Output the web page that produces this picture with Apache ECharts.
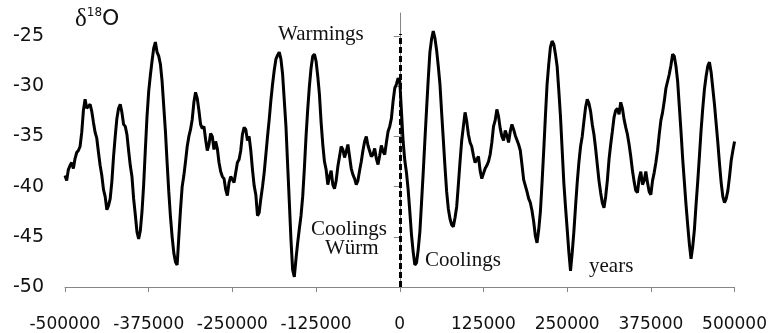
<!DOCTYPE html>
<html>
<head>
  <meta charset="utf-8">
  <title>d18O</title>
  <script src="https://cdn.jsdelivr.net/npm/echarts@6/dist/echarts.min.js"></script>
  <style>
    html, body { margin: 0; padding: 0; background: #fff; }
    #main { width: 770px; height: 333px; }
  </style>
</head>
<body>
  <div id="main"></div>
  <script type="text/javascript">
    // one sample every 2500 years, from -500000 to 500000
    var yearStart = -500000;
    var yearStep = 2500;
    var d18O = [
      -38.9,-39.4,-38.3,-37.9,-37.6,-38.2,-37.2,-36.6,-36.4,-36.0,
      -34.6,-32.4,-31.3,-32.2,-32.0,-31.8,-32.5,-33.6,-34.6,-35.2,
      -36.6,-37.9,-38.9,-40.3,-41.0,-42.3,-41.9,-41.2,-39.5,-37.0,
      -35.0,-33.2,-32.2,-31.8,-32.6,-33.8,-34.0,-34.8,-36.4,-37.9,
      -39.0,-41.2,-42.8,-44.5,-45.2,-44.4,-42.5,-39.8,-36.3,-33.0,
      -30.5,-28.9,-27.5,-26.2,-25.6,-26.6,-27.0,-27.8,-29.5,-32.0,
      -34.5,-37.6,-40.5,-43.0,-45.0,-46.6,-47.5,-47.8,-45.0,-42.3,
      -40.0,-38.9,-37.5,-36.0,-35.0,-34.3,-33.3,-31.6,-30.6,-31.2,
      -32.4,-33.8,-34.2,-34.0,-35.3,-36.4,-35.8,-34.7,-35.0,-36.3,
      -35.5,-36.2,-37.6,-38.5,-39.0,-39.2,-40.3,-40.9,-39.6,-39.0,
      -39.1,-39.6,-38.6,-37.6,-37.3,-36.4,-34.8,-34.1,-34.3,-35.4,
      -35.0,-36.4,-38.3,-39.9,-40.8,-42.9,-42.6,-41.2,-40.0,-38.6,
      -36.8,-35.0,-33.3,-31.4,-29.8,-28.4,-27.3,-26.9,-26.6,-27.3,
      -28.8,-31.4,-34.0,-37.8,-41.5,-45.3,-48.3,-49.0,-47.2,-45.6,
      -44.2,-42.9,-41.0,-38.2,-35.0,-32.3,-30.0,-28.2,-27.0,-26.8,
      -27.5,-29.0,-30.8,-33.6,-35.8,-37.5,-38.3,-39.8,-39.0,-38.4,
      -39.8,-40.2,-39.4,-38.0,-37.0,-36.0,-36.3,-37.1,-36.5,-35.8,
      -37.0,-38.2,-38.8,-39.2,-39.8,-39.4,-38.4,-37.5,-36.4,-35.5,
      -35.0,-35.9,-36.0,-37.0,-36.8,-36.2,-37.2,-37.8,-36.9,-35.9,
      -36.5,-36.8,-35.6,-34.5,-34.0,-33.2,-31.5,-30.2,-29.8,-29.2,
      -29.5,-32.5,-35.5,-37.4,-38.6,-40.3,-42.5,-44.8,-46.5,-47.8,
      -47.6,-46.3,-44.5,-41.6,-38.6,-35.4,-32.3,-29.3,-26.6,-25.3,
      -24.5,-25.2,-26.4,-28.0,-29.8,-32.6,-35.3,-38.0,-40.5,-42.2,
      -43.2,-43.8,-44.0,-43.1,-42.0,-39.8,-37.5,-35.4,-34.0,-32.6,
      -33.5,-34.8,-35.6,-36.0,-36.9,-37.6,-37.6,-37.0,-38.4,-39.2,
      -39.2,-38.2,-37.9,-37.5,-36.8,-35.6,-34.0,-33.4,-32.3,-33.0,
      -34.2,-35.0,-35.4,-34.4,-34.9,-35.6,-34.5,-33.8,-34.3,-34.9,
      -35.0,-35.8,-36.4,-37.8,-39.3,-39.9,-40.5,-41.2,-41.6,-42.4,
      -43.5,-44.9,-45.6,-44.3,-42.5,-39.6,-36.4,-33.0,-29.8,-27.8,
      -26.1,-25.5,-25.8,-26.8,-28.0,-30.4,-33.0,-36.3,-39.6,-42.0,
      -44.2,-46.5,-48.4,-46.6,-44.5,-42.0,-39.6,-37.6,-36.0,-35.0,
      -33.5,-32.1,-31.3,-31.7,-32.5,-33.8,-34.8,-36.2,-37.8,-39.4,
      -40.6,-41.6,-42.1,-41.0,-39.4,-37.3,-35.8,-34.5,-33.1,-32.4,
      -32.2,-32.8,-31.6,-32.2,-33.3,-34.1,-34.8,-35.8,-37.0,-38.4,
      -39.5,-40.4,-40.6,-39.2,-38.5,-39.8,-39.4,-38.5,-39.6,-40.5,
      -40.8,-39.4,-38.6,-37.6,-36.4,-34.8,-33.4,-32.6,-31.5,-30.2,
      -29.5,-28.8,-27.9,-26.8,-27.0,-28.0,-29.5,-32.0,-34.5,-37.2,
      -39.5,-41.8,-43.8,-45.7,-47.2,-46.0,-44.3,-41.8,-39.5,-37.0,
      -34.4,-32.2,-30.3,-29.0,-28.0,-27.6,-28.6,-30.2,-31.8,-33.7,
      -35.6,-37.7,-39.6,-41.0,-41.6,-41.2,-40.4,-39.0,-37.4,-36.4,
      -35.5
    ];
    var markerTop = -24.8;

    var data = [];
    for (var i = 0; i < d18O.length; i++) {
      data.push([yearStart + i * yearStep, d18O[i]]);
    }

    var myChart = echarts.init(document.getElementById('main'));
    var axisGray = '#868686';
    var option = {
      backgroundColor: '#fff',
      animation: false,
      grid: { left: 65, right: 31, top: 13, bottom: 43 },
      xAxis: {
        type: 'value',
        min: -500000,
        max: 500000,
        interval: 125000,
        axisLine: { lineStyle: { color: axisGray, width: 1 } },
        axisTick: { show: true, length: 5, lineStyle: { color: axisGray } },
        splitLine: { show: false },
        axisLabel: {
          margin: 29,
          verticalAlign: 'top',
          fontFamily: 'DejaVu Sans',
          fontSize: 17,
          color: '#111',
          formatter: function (v) { return String(v); }
        }
      },
      yAxis: {
        type: 'value',
        min: -50,
        max: -22.7,
        interval: 5,
        axisLine: { show: true, lineStyle: { color: axisGray, width: 1 } },
        axisTick: { show: true, length: 6, lineStyle: { color: axisGray } },
        splitLine: { show: false },
        axisLabel: {
          showMaxLabel: false,
          margin: 21,
          fontFamily: 'DejaVu Sans',
          fontSize: 19,
          color: '#111'
        }
      },
      series: [{
        type: 'line',
        data: data,
        showSymbol: false,
        lineStyle: { color: '#000', width: 3 },
        markLine: {
          silent: true,
          symbol: ['none', 'none'],
          label: { show: false },
          lineStyle: { color: '#000', width: 3, type: [6, 3] },
          data: [[{ coord: [0, -50] }, { coord: [0, markerTop] }]]
        }
      }],
      graphic: [
        {
          type: 'text', left: 75, top: 7,
          style: {
            text: '{d|δ}{s|18}{o|O}',
            rich: {
              d: { fontFamily: 'Liberation Serif', fontSize: 25, fill: '#111' },
              s: { fontFamily: 'DejaVu Sans', fontSize: 12, fill: '#111', verticalAlign: 'top', padding: [0, 0, 9, 0] },
              o: { fontFamily: 'DejaVu Sans', fontSize: 22, fill: '#111' }
            }
          }
        },
        { type: 'text', left: 278, top: 24, style: { text: 'Warmings', font: '21px "Liberation Serif"', fill: '#111' } },
        { type: 'text', left: 311, top: 219, style: { text: 'Coolings', font: '21px "Liberation Serif"', fill: '#111' } },
        { type: 'text', left: 325, top: 238, style: { text: 'Würm', font: '21px "Liberation Serif"', fill: '#111' } },
        { type: 'text', left: 425, top: 250, style: { text: 'Coolings', font: '21px "Liberation Serif"', fill: '#111' } },
        { type: 'text', left: 589, top: 256, style: { text: 'years', font: '21px "Liberation Serif"', fill: '#111' } }
      ]
    };
    myChart.setOption(option);
  </script>
</body>
</html>
